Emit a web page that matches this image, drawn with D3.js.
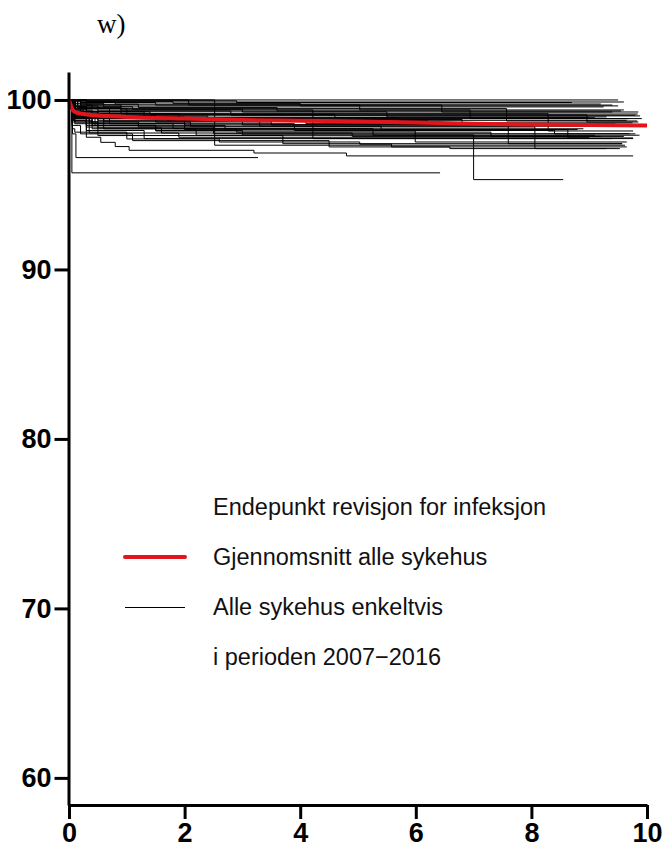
<!DOCTYPE html>
<html>
<head>
<meta charset="utf-8">
<script src="https://cdn.jsdelivr.net/npm/d3@7"></script>
<style>
  html, body { margin: 0; padding: 0; background: #fff; }
  svg { display: block; }
</style>
</head>
<body>
<svg id="chart" width="665" height="852"></svg>
<script>
// Survival (% without revision for infection) over years since surgery
const panelLabel = "w)";
const xTicks = [0, 2, 4, 6, 8, 10];
const yTicks = [60, 70, 80, 90, 100];

// Average over all hospitals
const meanTimes  = [0, 0.02, 0.05, 0.1, 0.2, 0.45, 1, 2, 3, 4, 5, 6, 7, 8, 9, 10];
const meanValues = [100, 99.8, 99.5, 99.3, 99.2, 99.1, 99.0, 98.9, 98.82, 98.77, 98.73, 98.67, 98.6, 98.55, 98.52, 98.49];

// Each hospital: step change points [years, percent]
const hospitalSteps = [
  [[0,100]],
  [[0,100],[0.3,99.88]],
  [[0,100],[0.1,99.9],[0.8,99.76]],
  [[0,100],[0.05,99.8],[0.6,99.59]],
  [[0,100],[0.1,99.7],[0.4,99.49],[7.57,98.76]],
  [[0,100],[0.05,99.6],[0.3,99.41],[4.22,97.72]],
  [[0,100],[2.52,97.33]],
  [[0,100],[0.05,99.5],[0.2,99.3],[0.9,99.17]],
  [[0,100],[0.1,99.6],[0.3,99.2],[1.0,99.06]],
  [[0,100],[0.05,99.5],[0.2,99.1],[1.5,98.9]],
  [[0,100],[0.1,99.4],[0.4,99.0],[2.0,98.53]],
  [[0,100],[0.05,99.2],[0.3,98.7],[1.2,98.41],[8.06,97.13]],
  [[0,100],[0.1,99.2],[0.5,98.8],[3.0,98.53],[7.6,97.42]],
  [[0,100],[0.2,99.5],[1.0,99.19],[8.29,98.17]],
  [[0,100],[0.05,99.0],[0.4,98.6],[2.0,98.25],[8.63,97.76]],
  [[0,100],[0.1,99.5],[0.7,99.12],[8.96,98.7]],
  [[0,100],[0.05,99.1],[0.3,98.5],[1.5,98.17],[5.99,97.52]],
  [[0,100],[0.3,99.7],[6.45,99.29]],
  [[0,100],[0.2,99.7],[0.9,99.41],[6.94,98.9]],
  [[0,100],[0.05,99.0],[0.5,98.6],[1.8,98.31],[5.26,97.92]],
  [[0,100],[0.2,99.85],[1.5,99.7],[5.03,99.41]],
  [[0,100],[0.1,99.2],[0.4,98.5],[1.5,98.2],[3.0,97.94],[7.0,95.3]],
  [[0,100],[0.08,98.8],[0.3,98.1],[1.0,97.7],[2.6,97.52],[5.03,97.39],[5.58,97.23],[6.59,97.13]],
  [[0,100],[0.06,98.3],[0.1,98.1],[0.3,97.8],[0.55,97.5],[0.8,97.25],[1.04,97.03],[3.2,96.87],[4.8,96.7]],
  [[0,100],[0.06,98.0],[0.12,96.6]],
  [[0,100],[0.05,95.7]],
  [[0,100],[2.07,99.7]],
  [[0,100],[0.1,99.3],[0.5,98.9],[1.5,98.7],[3.5,98.53]],
  [[0,100],[0.05,99.0],[0.3,98.4],[2.5,98.01]],
  [[0,100],[0.1,98.9],[0.6,98.3],[2.2,97.92]],
  [[0,100],[0.05,98.7],[0.3,98.2],[1.3,97.72]],
  [[0,100],[0.1,98.6],[0.5,97.9],[3.7,97.42]],
  [[0,100],[0.05,98.5],[0.2,98.0],[1.1,97.6],[4.5,97.23]],
  [[0,100],[0.15,99.6],[1.1,99.45],[3.0,99.29]],
  [[0,100],[0.1,99.65],[0.5,99.35],[2.8,99.1]],
  [[0,100],[0.3,99.9],[1.8,99.8],[4.0,99.65]],
  [[0,100],[0.05,99.2],[0.6,98.9],[4.1,98.6]],
  [[0,100],[0.1,99.0],[0.45,98.5],[2.7,98.3]],
  [[0,100],[0.05,98.9],[0.35,98.05],[1.9,97.8]],
  [[0,100],[0.2,99.3],[1.3,98.95]],
  [[0,100],[0.05,99.4],[0.25,99.0],[1.7,98.8],[6.2,98.6]],
  [[0,100],[0.1,99.1],[0.6,98.75],[3.3,98.45]],
  [[0,100],[0.05,98.8],[0.4,98.3],[2.9,98.1],[7.3,97.85]],
  [[0,100],[0.15,99.55],[0.9,99.3],[5.5,99.0]],
  [[0,100],[0.05,99.3],[0.5,99.05],[2.4,98.85],[6.8,98.65]],
  [[0,100],[0.1,98.7],[0.5,98.35],[1.6,98.05],[4.9,97.85]],
  [[0,100],[0.2,99.75],[1.2,99.55],[3.6,99.35]],
  [[0,100],[0.05,99.45],[0.3,99.2],[1.9,98.95],[5.7,98.8]],
  [[0,100],[0.1,98.95],[0.7,98.6],[3.9,98.2],[8.4,98.0]],
  [[0,100],[0.05,99.6],[0.2,99.3],[1.4,99.15],[4.6,98.95]],
  [[0,100],[0.08,99.15],[0.35,98.7],[2.1,98.45],[5.4,98.25]],
  [[0,100],[0.3,99.95],[2.9,99.85]]
];
// Last follow-up time (years) for each hospital
const hospitalEnds = [9.5, 9.6, 9.2, 9.25, 9.83, 9.76, 9.62, 9.84, 9.88, 9.91, 9.5, 9.53, 9.57, 9.76, 9.76, 9.85, 9.65, 9.85, 9.7, 9.87, 9.6, 8.55, 9.3, 9.76, 3.27, 6.42, 9.4, 9.3, 9.7, 9.1, 9.4, 9.57, 9.65, 9.4, 9.8, 9.5, 9.2, 8.9, 9.0, 9.1,
  9.45, 9.7, 9.6, 9.3, 9.75, 9.2, 9.55, 9.65, 9.8, 9.0, 8.8, 8.7];

const legendTitle = "Endepunkt revisjon for infeksjon";
const legendMean = "Gjennomsnitt alle sykehus";
const legendEach = "Alle sykehus enkeltvis";
const legendPeriod = "i perioden 2007\u22122016";

const svg = d3.select("#chart");

const x = d3.scaleLinear().domain([0, 10]).range([69, 647]);
const y = d3.scaleLinear().domain([58.4, 101.65]).range([805, 72]);

const tickFont = "'Liberation Sans Narrow', 'Liberation Sans', Arial, sans-serif";

// Individual hospital step curves
const stepLine = d3.line()
  .x(d => x(d[0]))
  .y(d => y(d[1]))
  .curve(d3.curveStepAfter);

const hospitals = hospitalSteps.map((steps, i) => {
  const last = steps[steps.length - 1][1];
  return steps.concat([[hospitalEnds[i], last]]);
});

svg.append("g")
  .attr("fill", "none")
  .attr("stroke", "#000")
  .attr("stroke-width", 1)
  .selectAll("path")
  .data(hospitals)
  .join("path")
  .attr("d", stepLine);

// Mean curve
const meanLine = d3.line()
  .x(d => x(d[0]))
  .y(d => y(d[1]))
  .curve(d3.curveMonotoneX);

svg.append("path")
  .datum(meanTimes.map((t, i) => [t, meanValues[i]]))
  .attr("fill", "none")
  .attr("stroke", "#e3151a")
  .attr("stroke-width", 4)
  .attr("d", meanLine);

// Axes
const yAxis = svg.append("g")
  .attr("transform", "translate(68.5,0)")
  .call(d3.axisLeft(y).tickValues(yTicks).tickSize(14).tickSizeOuter(0).tickPadding(3));

const xAxis = svg.append("g")
  .attr("transform", "translate(0,805)")
  .call(d3.axisBottom(x).tickValues(xTicks).tickSize(14).tickSizeOuter(0).tickPadding(4));

[yAxis, xAxis].forEach(g => {
  g.select(".domain").attr("stroke", "#000").attr("stroke-width", 3);
  g.selectAll(".tick line").attr("stroke", "#000").attr("stroke-width", 3);
  g.selectAll(".tick text")
    .attr("fill", "#000")
    .style("font-family", tickFont)
    .style("font-weight", "bold")
    .style("font-size", "27px");
});
xAxis.selectAll(".tick text").attr("dy", "0.7em");

// Panel label
svg.append("text")
  .attr("x", 97)
  .attr("y", 33)
  .style("font-family", "'Liberation Serif', 'Times New Roman', serif")
  .style("font-size", "27px")
  .attr("fill", "#000")
  .text(panelLabel);

// Legend
const legend = svg.append("g")
  .style("font-family", "'Liberation Sans', Arial, sans-serif")
  .style("font-size", "23.5px")
  .attr("fill", "#111");

const rows = [legendTitle, legendMean, legendEach, legendPeriod];
const rowY = [507, 557, 607, 657];
rows.forEach((txt, i) => {
  legend.append("text")
    .attr("x", 213)
    .attr("y", rowY[i])
    .attr("dy", "0.35em")
    .text(txt);
});
legend.append("line")
  .attr("x1", 125).attr("x2", 185)
  .attr("y1", rowY[1]).attr("y2", rowY[1])
  .attr("stroke", "#e3151a").attr("stroke-width", 4).attr("stroke-linecap", "round");
legend.append("line")
  .attr("x1", 125).attr("x2", 185)
  .attr("y1", rowY[2] + 0.5).attr("y2", rowY[2] + 0.5)
  .attr("stroke", "#000").attr("stroke-width", 1);
</script>
</body>
</html>
